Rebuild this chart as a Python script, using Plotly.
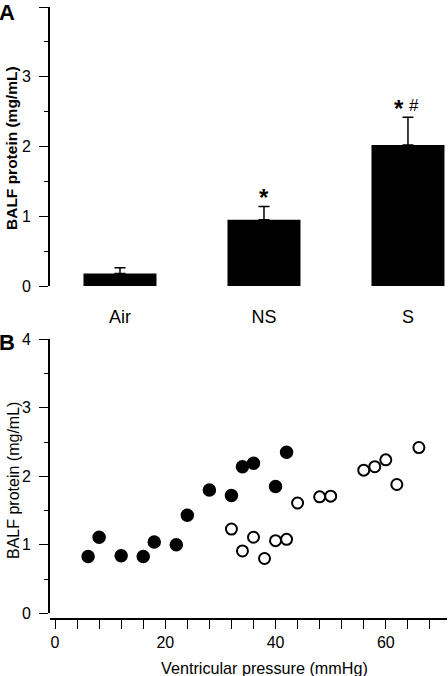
import plotly.graph_objects as go

# ---- Panel A data ----
groups = ["Air", "NS", "S"]
protein_mean = [0.18, 0.95, 2.02]
protein_sem = [0.08, 0.19, 0.40]
sig_labels = ["", "*", "*"]
hash_labels = ["", "", "#"]

# ---- Panel B data ----
filled_pressure = [6, 8, 12, 16, 18, 22, 24, 28, 32, 34, 36, 40, 42]
filled_protein = [0.83, 1.11, 0.84, 0.83, 1.04, 1.00, 1.43, 1.80, 1.72, 2.14, 2.19, 1.85, 2.35]
open_pressure = [32, 34, 36, 38, 40, 42, 44, 48, 50, 56, 58, 60, 62, 66]
open_protein = [1.23, 0.91, 1.11, 0.80, 1.06, 1.08, 1.61, 1.70, 1.71, 2.09, 2.14, 2.24, 1.88, 2.42]

y_ticks = [0, 1, 2, 3, 4]
x_ticks_b = [0, 20, 40, 60]

W, H = 448, 676
FONT = "Arial, Liberation Sans, sans-serif"

fig = go.Figure()

fig.add_trace(go.Bar(
    x=groups, y=protein_mean, width=0.507,
    marker=dict(color="black", line=dict(width=0)),
    error_y=dict(type="data", array=protein_sem, arrayminus=[0] * 3, symmetric=False,
                 color="black", thickness=1.5, width=5.5),
    xaxis="x", yaxis="y", showlegend=False,
))

for g, m, s, lab, hl in zip(groups, protein_mean, protein_sem, sig_labels, hash_labels):
    if lab:
        fig.add_annotation(x=g, y=m + s, xref="x", yref="y", text="<b>" + lab + "</b>",
                           showarrow=False, yanchor="bottom", xanchor="center",
                           xshift=(-9 if hl else 0), yshift=-7,
                           font=dict(size=24, color="black", family=FONT))
    if hl:
        fig.add_annotation(x=g, y=m + s, xref="x", yref="y", text=hl,
                           showarrow=False, yanchor="bottom", xanchor="center", xshift=6, yshift=0,
                           font=dict(size=17, color="black", family=FONT))

fig.add_trace(go.Scatter(
    x=filled_pressure, y=filled_protein, mode="markers",
    marker=dict(size=12, color="black", line=dict(color="black", width=1.5)),
    xaxis="x2", yaxis="y2", showlegend=False,
))
fig.add_trace(go.Scatter(
    x=open_pressure, y=open_protein, mode="markers",
    marker=dict(size=11, color="white", line=dict(color="black", width=2)),
    xaxis="x2", yaxis="y2", showlegend=False,
))

def py(px):
    return 1 - px / H

axis_common = dict(showgrid=False, zeroline=False, linecolor="black", linewidth=2,
                   ticks="outside", tickcolor="black", tickwidth=1.2, automargin=False)
minor_y = dict(dtick=0.5, ticklen=4.5, ticks="outside", tickcolor="black", tickwidth=1.2)

fig.update_layout(
    width=W, height=H, autosize=False,
    margin=dict(l=0, r=0, t=0, b=0, pad=0),
    paper_bgcolor="white", plot_bgcolor="white",
    font=dict(family=FONT, color="black"),
    xaxis=dict(domain=[50 / W, 1], range=[-0.486, 2.278], showline=False, ticks="outside",
               ticklen=14, tickcolor="rgba(0,0,0,0)",
               showgrid=False, zeroline=False, anchor="y", automargin=False,
               tickfont=dict(size=18)),
    yaxis=dict(domain=[py(286), py(7)], range=[0, 4], tickvals=y_ticks, ticklen=9,
               showline=True, anchor="x", tickfont=dict(size=16), ticklabelstandoff=5,
               minor=minor_y, **axis_common),
    xaxis2=dict(domain=[50 / W, 447 / W], range=[-0.91, 71.1], tickvals=x_ticks_b, ticklen=9,
                showline=True, anchor="free", position=py(619), tickfont=dict(size=16),
                minor=dict(dtick=4, tick0=0, ticklen=9, ticks="outside", tickcolor="black", tickwidth=1.2),
                **axis_common),
    yaxis2=dict(domain=[py(613.3), py(339.3)], range=[0, 4], tickvals=y_ticks, ticklen=9,
                showline=True, anchor="x2", tickfont=dict(size=16), ticklabelstandoff=5,
                minor=minor_y, **axis_common),
)

# axis titles and panel letters
fig.add_annotation(x=11 / W, y=py(148), xref="paper", yref="paper", text="<b>BALF protein (mg/mL)</b>",
                   textangle=-90, showarrow=False, xanchor="center", yanchor="middle",
                   font=dict(size=15.5, family=FONT, color="black"))
fig.add_annotation(x=13 / W, y=py(481), xref="paper", yref="paper", text="BALF protein (mg/mL)",
                   textangle=-90, showarrow=False, xanchor="center", yanchor="middle",
                   font=dict(size=16, family=FONT, color="black"))
fig.add_annotation(x=264 / W, y=py(668), xref="paper", yref="paper", text="Ventricular pressure (mmHg)",
                   showarrow=False, xanchor="center", yanchor="middle",
                   font=dict(size=16.2, family=FONT, color="black"))
fig.add_annotation(x=0, y=py(0), xref="paper", yref="paper", text="<b>A</b>", xanchor="left", yanchor="top",
                   xshift=-3, yshift=2,
                   showarrow=False, font=dict(size=22, family=FONT, color="black"))
fig.add_annotation(x=0, y=py(330), xref="paper", yref="paper", text="<b>B</b>", xanchor="left", yanchor="top",
                   xshift=-3, yshift=2,
                   showarrow=False, font=dict(size=22, family=FONT, color="black"))

fig.write_html("out.html", config={"responsive": False, "displayModeBar": False},
               post_script="document.body.style.margin='0';document.body.style.overflow='hidden';")
